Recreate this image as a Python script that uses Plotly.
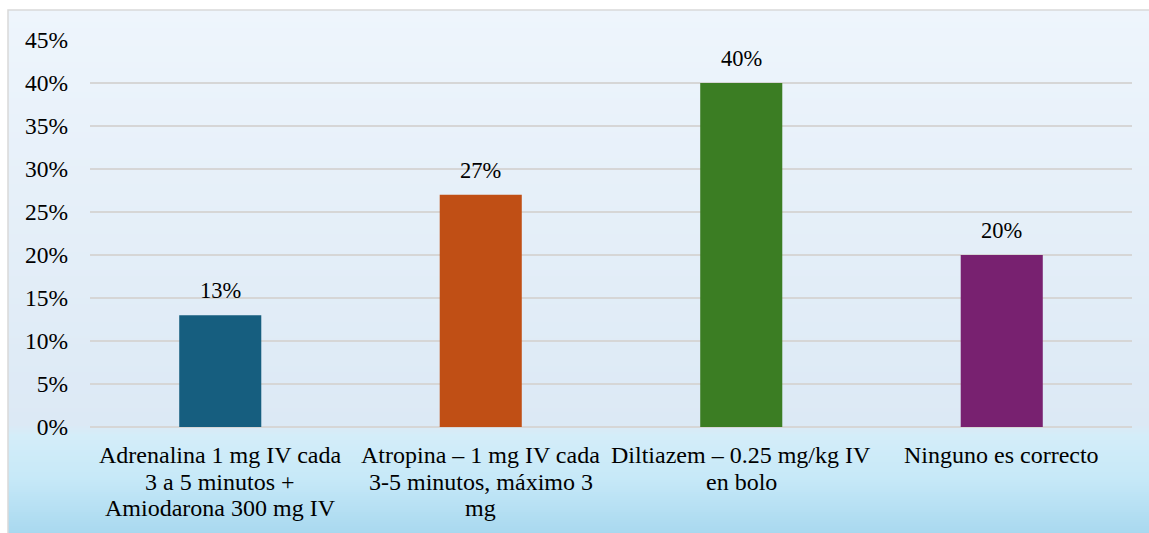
import plotly.graph_objects as go

# Chart data
categories = [
    "Adrenalina 1 mg IV cada<br>3 a 5 minutos +<br>Amiodarona 300 mg IV",
    "Atropina – 1 mg IV cada<br>3-5 minutos, máximo 3<br>mg",
    "Diltiazem – 0.25 mg/kg IV<br>en bolo",
    "Ninguno es correcto",
]
values = [13, 27, 40, 20]
bar_colors = ["#165e7f", "#c04f15", "#3b7d23", "#782170"]
tick_values = [0, 5, 10, 15, 20, 25, 30, 35, 40, 45]
tick_labels = [f"{t}%" for t in tick_values]

W, H = 1149, 533
ML, MR, MT, MB = 90, 17, 40, 106
plot_w = W - ML - MR
plot_h = H - MT - MB

FONT = "Liberation Serif"
FS_CAT = 24
FS_TICK = 23.5
FS_VAL = 22.5
TXT = "#000000"

fig = go.Figure(
    go.Bar(
        x=categories,
        y=values,
        marker=dict(color=bar_colors, line=dict(width=0)),
        width=0.315,
        hoverinfo="skip",
    )
)

# value labels above each bar
for c, v in zip(categories, values):
    fig.add_annotation(
        x=c, y=v, text=f"{v}%", showarrow=False,
        yanchor="bottom", yshift=10,
        font=dict(family=FONT, size=FS_VAL, color=TXT),
    )

# category labels under the axis, one line at a time for tighter leading
LINE_GAP = 26.5
for c in categories:
    for i, line in enumerate(c.split("<br>")):
        fig.add_annotation(
            x=c, y=0, text=line, showarrow=False,
            xanchor="center", yanchor="middle",
            yshift=-(28 + i * LINE_GAP),
            font=dict(family=FONT, size=FS_CAT, color=TXT),
        )


def px_to_paper_x(px):
    return (px - ML) / plot_w


def px_to_paper_y(py):
    return (H - MB - py) / plot_h


def lerp(c1, c2, t):
    return tuple(round(a + (b - a) * t) for a, b in zip(c1, c2))


# vertical gradient of the chart frame
stops = [
    (0.00, (238, 245, 252)),
    (0.78, (220, 233, 245)),
    (0.80, (212, 237, 249)),
    (0.88, (199, 233, 248)),
    (1.00, (164, 214, 238)),
]
top_px, bot_px = 10, 540
left_px = 8
step = 2
shapes = []
y = top_px
while y < bot_px:
    t = (y - top_px) / (bot_px - top_px)
    for (t0, c0), (t1, c1) in zip(stops[:-1], stops[1:]):
        if t0 <= t <= t1:
            col = lerp(c0, c1, (t - t0) / (t1 - t0) if t1 > t0 else 0)
            break
    shapes.append(dict(
        type="rect", xref="paper", yref="paper", layer="below",
        x0=px_to_paper_x(left_px), x1=px_to_paper_x(W + 5),
        y0=px_to_paper_y(y + step + 0.5), y1=px_to_paper_y(y),
        fillcolor=f"rgb{col}", line=dict(width=0),
    ))
    y += step

# frame border
shapes.append(dict(
    type="rect", xref="paper", yref="paper", layer="below",
    x0=px_to_paper_x(left_px), x1=px_to_paper_x(W + 5),
    y0=px_to_paper_y(H + 5), y1=px_to_paper_y(10),
    fillcolor="rgba(0,0,0,0)", line=dict(color="#d9d9d9", width=1.5),
))

fig.update_layout(
    width=W, height=H,
    margin=dict(l=ML, r=MR, t=MT, b=MB),
    paper_bgcolor="white",
    plot_bgcolor="rgba(0,0,0,0)",
    shapes=shapes,
    showlegend=False,
    bargap=0.685,
    font=dict(family=FONT, size=FS_TICK, color=TXT),
    xaxis=dict(
        showgrid=False, showline=False, zeroline=False,
        showticklabels=False, ticks="",
    ),
    yaxis=dict(
        range=[0, 45], tickvals=tick_values, ticktext=tick_labels,
        showgrid=True, gridcolor="#d6d6d6", gridwidth=1.5,
        zeroline=True, zerolinecolor="#d6d6d6", zerolinewidth=1.5,
        showline=False, ticks="",
        tickfont=dict(family=FONT, size=FS_TICK, color=TXT),
        ticklabelstandoff=21,
    ),
)

fig.write_html("out.html")
